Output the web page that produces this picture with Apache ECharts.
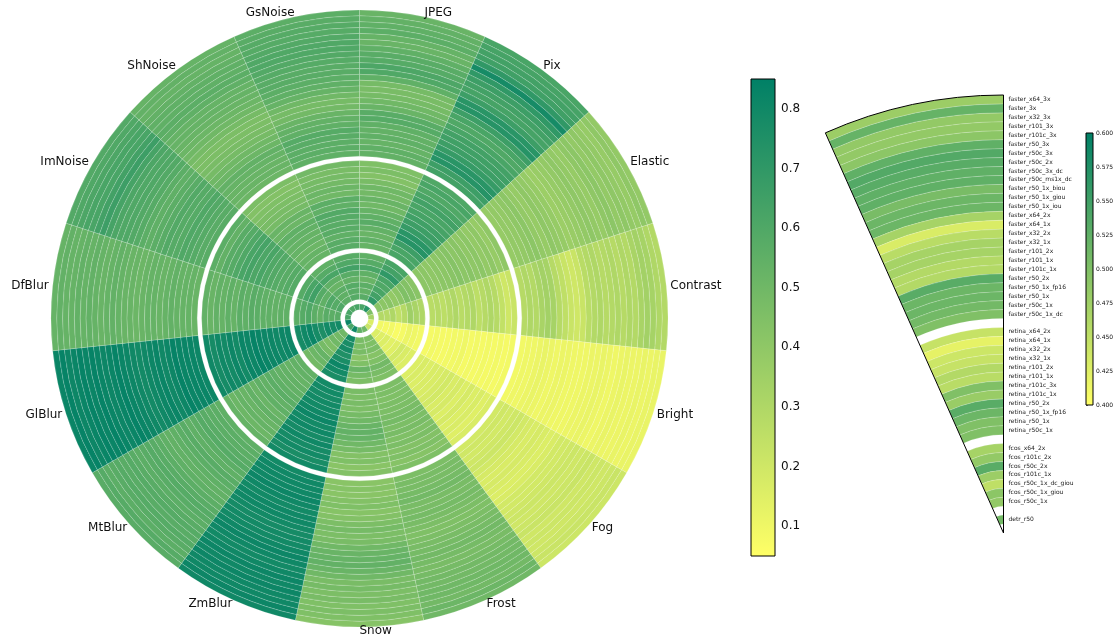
<!DOCTYPE html>
<html>
<head>
<meta charset="utf-8">
<script src="https://cdn.jsdelivr.net/npm/echarts@6/dist/echarts.min.js"></script>
<style>
  html, body { margin: 0; padding: 0; background: #ffffff; }
  #chart { width: 1120px; height: 638px; }
</style>
</head>
<body>
<div id="chart"></div>
<script>
// Corruption types, clockwise from the top
const corruptions = ['JPEG', 'Pix', 'Elastic', 'Contrast', 'Bright', 'Fog', 'Frost', 'Snow',
  'ZmBlur', 'MtBlur', 'GlBlur', 'DfBlur', 'ImNoise', 'ShNoise', 'GsNoise'];

// Rings per detector family in the wheel (faster, retina, fcos, detr), outer family first
const wheelFamilySizes = [25, 15, 8, 1];

// Relative score per corruption, one value per ring, outer ring first
const jpeg = [0.52, 0.54, 0.55, 0.56, 0.53, 0.52, 0.55, 0.57, 0.58, 0.61, 0.60, 0.55, 0.48,
  0.47, 0.48, 0.50, 0.52, 0.57, 0.58, 0.55, 0.54, 0.55, 0.53, 0.55, 0.54,
  0.45, 0.46, 0.44, 0.47, 0.50, 0.49, 0.52, 0.50, 0.53, 0.55, 0.57, 0.54, 0.52, 0.55, 0.53,
  0.55, 0.58, 0.62, 0.55, 0.52, 0.56, 0.54, 0.57,
  0.62];
const pix = [0.62, 0.63, 0.64, 0.65, 0.70, 0.78, 0.70, 0.66, 0.64, 0.63, 0.66, 0.72, 0.73,
  0.66, 0.62, 0.60, 0.62, 0.64, 0.65, 0.66, 0.68, 0.72, 0.73, 0.66, 0.64,
  0.60, 0.62, 0.60, 0.62, 0.64, 0.62, 0.63, 0.65, 0.66, 0.68, 0.72, 0.73, 0.66, 0.62, 0.62,
  0.62, 0.64, 0.70, 0.62, 0.60, 0.62, 0.64, 0.70,
  0.72];
const elastic = [0.39, 0.40, 0.38, 0.39, 0.40, 0.39, 0.41, 0.40, 0.38, 0.39, 0.40, 0.39, 0.38,
  0.37, 0.36, 0.38, 0.39, 0.40, 0.38, 0.39, 0.41, 0.40, 0.39, 0.39, 0.38,
  0.40, 0.38, 0.40, 0.39, 0.41, 0.40, 0.42, 0.41, 0.43, 0.42, 0.41, 0.41, 0.40, 0.41, 0.41,
  0.42, 0.44, 0.45, 0.41, 0.39, 0.42, 0.41, 0.42,
  0.45];
const contrast = [0.29, 0.30, 0.33, 0.34, 0.32, 0.29, 0.30, 0.28, 0.30, 0.29, 0.28, 0.30, 0.29,
  0.27, 0.22, 0.20, 0.22, 0.25, 0.28, 0.33, 0.34, 0.32, 0.29, 0.30, 0.28,
  0.22, 0.20, 0.24, 0.28, 0.30, 0.28, 0.26, 0.30, 0.29, 0.27, 0.30, 0.28, 0.26, 0.28, 0.27,
  0.30, 0.32, 0.35, 0.28, 0.25, 0.30, 0.28, 0.29,
  0.33];
const bright = [0.12, 0.12, 0.11, 0.12, 0.11, 0.11, 0.12, 0.11, 0.10, 0.11, 0.12, 0.11, 0.11,
  0.10, 0.10, 0.10, 0.11, 0.11, 0.10, 0.11, 0.12, 0.11, 0.10, 0.10, 0.09,
  0.09, 0.08, 0.09, 0.08, 0.09, 0.08, 0.09, 0.08, 0.10, 0.09, 0.09, 0.08, 0.08, 0.09, 0.08,
  0.09, 0.10, 0.11, 0.08, 0.07, 0.09, 0.08, 0.09,
  0.16];
const fog = [0.21, 0.22, 0.21, 0.20, 0.21, 0.20, 0.22, 0.21, 0.20, 0.21, 0.20, 0.19, 0.19,
  0.17, 0.16, 0.17, 0.18, 0.17, 0.18, 0.19, 0.21, 0.20, 0.19, 0.20, 0.19,
  0.17, 0.15, 0.17, 0.16, 0.18, 0.16, 0.18, 0.17, 0.19, 0.18, 0.17, 0.17, 0.16, 0.17, 0.16,
  0.16, 0.17, 0.19, 0.15, 0.14, 0.16, 0.15, 0.16,
  0.22];
const frost = [0.50, 0.51, 0.49, 0.50, 0.50, 0.49, 0.49, 0.48, 0.47, 0.48, 0.49, 0.48, 0.47,
  0.46, 0.45, 0.46, 0.47, 0.48, 0.47, 0.47, 0.49, 0.48, 0.47, 0.47, 0.46,
  0.45, 0.43, 0.45, 0.44, 0.46, 0.45, 0.47, 0.46, 0.48, 0.47, 0.46, 0.46, 0.45, 0.46, 0.46,
  0.45, 0.47, 0.49, 0.45, 0.43, 0.46, 0.45, 0.46,
  0.50];
const snow = [0.43, 0.45, 0.46, 0.45, 0.47, 0.46, 0.48, 0.47, 0.50, 0.52, 0.54, 0.53, 0.52,
  0.50, 0.47, 0.46, 0.48, 0.46, 0.44, 0.43, 0.45, 0.44, 0.42, 0.43, 0.42,
  0.44, 0.42, 0.45, 0.44, 0.48, 0.50, 0.53, 0.54, 0.52, 0.50, 0.48, 0.46, 0.47, 0.46, 0.47,
  0.46, 0.48, 0.52, 0.45, 0.42, 0.47, 0.46, 0.47,
  0.55];
const zmBlur = [0.80, 0.81, 0.80, 0.80, 0.81, 0.80, 0.81, 0.80, 0.79, 0.80, 0.81, 0.80, 0.79,
  0.79, 0.78, 0.79, 0.80, 0.80, 0.79, 0.80, 0.81, 0.80, 0.80, 0.80, 0.79,
  0.79, 0.77, 0.79, 0.78, 0.80, 0.78, 0.80, 0.79, 0.81, 0.80, 0.79, 0.79, 0.78, 0.79, 0.79,
  0.77, 0.79, 0.81, 0.77, 0.75, 0.78, 0.77, 0.78,
  0.80];
const mtBlur = [0.57, 0.58, 0.56, 0.57, 0.58, 0.57, 0.58, 0.57, 0.56, 0.57, 0.58, 0.57, 0.56,
  0.55, 0.54, 0.55, 0.56, 0.57, 0.55, 0.56, 0.58, 0.57, 0.56, 0.56, 0.55,
  0.53, 0.51, 0.53, 0.52, 0.54, 0.52, 0.55, 0.54, 0.56, 0.55, 0.54, 0.54, 0.53, 0.54, 0.54,
  0.49, 0.51, 0.53, 0.48, 0.46, 0.50, 0.49, 0.50,
  0.62];
const glBlur = [0.82, 0.83, 0.81, 0.82, 0.83, 0.82, 0.83, 0.82, 0.81, 0.82, 0.83, 0.82, 0.81,
  0.80, 0.79, 0.80, 0.81, 0.82, 0.80, 0.81, 0.83, 0.82, 0.82, 0.82, 0.81,
  0.80, 0.78, 0.80, 0.79, 0.81, 0.79, 0.82, 0.81, 0.83, 0.82, 0.81, 0.81, 0.80, 0.81, 0.81,
  0.78, 0.80, 0.82, 0.78, 0.76, 0.79, 0.78, 0.79,
  0.82];
const dfBlur = [0.53, 0.54, 0.53, 0.53, 0.54, 0.53, 0.54, 0.53, 0.52, 0.53, 0.54, 0.53, 0.52,
  0.52, 0.51, 0.52, 0.53, 0.53, 0.52, 0.53, 0.54, 0.53, 0.53, 0.53, 0.52,
  0.54, 0.52, 0.54, 0.53, 0.55, 0.53, 0.56, 0.55, 0.57, 0.56, 0.55, 0.55, 0.54, 0.55, 0.55,
  0.56, 0.58, 0.60, 0.56, 0.54, 0.57, 0.56, 0.57,
  0.62];
const imNoise = [0.59, 0.60, 0.61, 0.62, 0.62, 0.64, 0.66, 0.63, 0.61, 0.60, 0.60, 0.59, 0.58,
  0.56, 0.55, 0.56, 0.57, 0.59, 0.58, 0.58, 0.60, 0.59, 0.58, 0.57, 0.57,
  0.56, 0.54, 0.57, 0.58, 0.60, 0.62, 0.63, 0.61, 0.62, 0.60, 0.59, 0.58, 0.57, 0.58, 0.58,
  0.58, 0.62, 0.65, 0.58, 0.55, 0.60, 0.58, 0.60,
  0.62];
const shNoise = [0.53, 0.54, 0.53, 0.54, 0.55, 0.55, 0.56, 0.55, 0.53, 0.53, 0.52, 0.51, 0.50,
  0.48, 0.46, 0.46, 0.47, 0.48, 0.50, 0.51, 0.54, 0.53, 0.52, 0.52, 0.51,
  0.46, 0.44, 0.45, 0.46, 0.47, 0.48, 0.52, 0.51, 0.55, 0.54, 0.53, 0.53, 0.51, 0.53, 0.53,
  0.55, 0.58, 0.62, 0.55, 0.52, 0.56, 0.55, 0.56,
  0.60];
const gsNoise = [0.56, 0.57, 0.58, 0.58, 0.59, 0.60, 0.60, 0.59, 0.58, 0.57, 0.57, 0.56, 0.55,
  0.53, 0.50, 0.48, 0.49, 0.52, 0.54, 0.55, 0.58, 0.57, 0.56, 0.56, 0.55,
  0.49, 0.47, 0.48, 0.49, 0.51, 0.50, 0.56, 0.55, 0.59, 0.58, 0.57, 0.57, 0.55, 0.57, 0.57,
  0.57, 0.60, 0.64, 0.57, 0.54, 0.58, 0.57, 0.58,
  0.62];

// Legend wedge: detector families and their models, outer ring first
const fasterModels = ['faster_x64_3x', 'faster_3x', 'faster_x32_3x', 'faster_r101_3x', 'faster_r101c_3x',
  'faster_r50_3x', 'faster_r50c_3x', 'faster_r50c_2x', 'faster_r50c_3x_dc', 'faster_r50c_ms1x_dc',
  'faster_r50_1x_biou', 'faster_r50_1x_giou', 'faster_r50_1x_iou', 'faster_x64_2x', 'faster_x64_1x',
  'faster_x32_2x', 'faster_x32_1x', 'faster_r101_2x', 'faster_r101_1x', 'faster_r101c_1x',
  'faster_r50_2x', 'faster_r50_1x_fp16', 'faster_r50_1x', 'faster_r50c_1x', 'faster_r50c_1x_dc'];
const retinaModels = ['retina_x64_2x', 'retina_x64_1x', 'retina_x32_2x', 'retina_x32_1x', 'retina_r101_2x',
  'retina_r101_1x', 'retina_r101c_3x', 'retina_r101c_1x', 'retina_r50_2x', 'retina_r50_1x_fp16',
  'retina_r50_1x', 'retina_r50c_1x'];
const fcosModels = ['fcos_x64_2x', 'fcos_r101c_2x', 'fcos_r50c_2x', 'fcos_r101c_1x', 'fcos_r50c_1x_dc_giou',
  'fcos_r50c_1x_giou', 'fcos_r50c_1x'];
const detrModels = ['detr_r50'];

// Mean score per model in the legend wedge, same order as the names
const modelMean = [0.478, 0.520, 0.485, 0.485, 0.490, 0.525, 0.535, 0.530, 0.525, 0.525,
  0.505, 0.515, 0.515, 0.470, 0.430, 0.455, 0.470, 0.470, 0.460, 0.460,
  0.530, 0.515, 0.515, 0.510, 0.500,
  0.445, 0.420, 0.440, 0.445, 0.460, 0.455, 0.500, 0.480, 0.530, 0.515, 0.500, 0.500,
  0.470, 0.485, 0.530, 0.478, 0.450, 0.490, 0.485,
  0.510];

// Colour bar ticks and ranges
const mainTicks = [0.1, 0.2, 0.3, 0.4, 0.5, 0.6, 0.7, 0.8];
const legendTicks = [0.400, 0.425, 0.450, 0.475, 0.500, 0.525, 0.550, 0.575, 0.600];
const mainRange = [0.05, 0.85];
const legendRange = [0.40, 0.60];

// summer_r colour map (low -> high)
const cmap = ['#ffff66', '#008066'];

const scores = [jpeg, pix, elastic, contrast, bright, fog, frost, snow,
  zmBlur, mtBlur, glBlur, dfBlur, imNoise, shNoise, gsNoise];
const legendGroups = [fasterModels, retinaModels, fcosModels, detrModels];
const legendModels = [].concat(...legendGroups);

// Radial layout in ring units: centre hole, then families from the inside out with gaps between them.
// Returns one [inner, outer] span per ring, outer ring first.
function ringLayout(sizes, hole, gap) {
  const total = sizes.reduce(function (s, n) { return s + n; }, 0);
  const spans = new Array(total);
  let r = hole;
  let idx = total;
  for (let g = sizes.length - 1; g >= 0; g--) {
    for (let k = 0; k < sizes[g]; k++) {
      idx--;
      spans[idx] = [r, r + 1];
      r += 1;
    }
    if (g > 0) r += gap;
  }
  return { spans: spans, outer: r };
}
const mainLayout = ringLayout(wheelFamilySizes, 1.5, 0.75);
const legendLayout = ringLayout(legendGroups.map(function (g) { return g.length; }), 1, 1);

const mainCells = [];
scores.forEach(function (col, c) {
  col.forEach(function (v, m) {
    mainCells.push([c, mainLayout.spans[m][0], mainLayout.spans[m][1], v]);
  });
});
const legendCells = modelMean.map(function (v, m) {
  return [0, legendLayout.spans[m][0], legendLayout.spans[m][1], v];
});
const legendNames = legendModels.map(function (name, m) {
  return [0, (legendLayout.spans[m][0] + legendLayout.spans[m][1]) / 2, name];
});

const cellStroke = 'rgba(255,255,255,0.35)';

function renderSector(params, api) {
  const a = api.value(0);
  const pIn = api.coord([api.value(1), a]);
  const pOut = api.coord([api.value(2), a]);
  const cs = params.coordSys;
  const half = api.size([0, 1])[1] / 2;
  const mid = -pIn[3];
  return {
    type: 'sector',
    shape: { cx: cs.cx, cy: cs.cy, r0: pIn[2], r: pOut[2], startAngle: mid - half, endAngle: mid + half, clockwise: true },
    style: { fill: api.visual('color'), stroke: cellStroke, lineWidth: 0.5 }
  };
}

function renderWedgeCell(params, api) {
  const pA = api.coord([api.value(1), 0]);
  const pB = api.coord([api.value(2), 24]);
  const cs = params.coordSys;
  return {
    type: 'sector',
    shape: { cx: cs.cx, cy: cs.cy, r0: pA[2], r: pB[2], startAngle: -pB[3], endAngle: -pA[3], clockwise: true },
    style: { fill: api.visual('color'), stroke: cellStroke, lineWidth: 0.5 }
  };
}

function renderWedgeFrame(params, api) {
  const pA = api.coord([api.value(0), 0]);
  const pB = api.coord([api.value(1), 24]);
  const cs = params.coordSys;
  return {
    type: 'sector',
    shape: { cx: cs.cx, cy: cs.cy, r0: 0, r: pB[2], startAngle: -pB[3], endAngle: -pA[3], clockwise: true },
    style: { fill: 'none', stroke: '#000000', lineWidth: 1 }
  };
}

function renderWedgeLabel(params, api) {
  const p = api.coord([api.value(1), 0]);
  return {
    type: 'text',
    x: p[0] + 5, y: p[1],
    style: { text: api.value(2), fontFamily: 'DejaVu Sans', fontSize: 6, fill: '#222222', align: 'left', verticalAlign: 'middle' }
  };
}

function renderAngleLabel(params, api) {
  const c = api.value(0);
  const p = api.coord([mainLayout.outer, c]);
  const cs = params.coordSys;
  const a = p[3];
  const rr = p[2] + 4;
  const right = Math.cos(a) > -1e-6;
  return {
    type: 'text',
    x: cs.cx + rr * Math.cos(a), y: cs.cy - rr * Math.sin(a),
    style: { text: corruptions[c], fontFamily: 'DejaVu Sans', fontSize: 12, fill: '#111111', align: right ? 'left' : 'right', verticalAlign: 'middle' }
  };
}

function renderBar(params, api) {
  const top = api.coord([0, api.value(1)]);
  const bottom = api.coord([1, api.value(0)]);
  return {
    type: 'rect',
    shape: { x: top[0], y: top[1], width: bottom[0] - top[0], height: bottom[1] - top[1] },
    style: { fill: new echarts.graphic.LinearGradient(0, 0, 0, 1, [{ offset: 0, color: cmap[1] }, { offset: 1, color: cmap[0] }]) }
  };
}

const hidden = { axisLine: { show: false }, axisTick: { show: false }, axisLabel: { show: false }, splitLine: { show: false } };

const chart = echarts.init(document.getElementById('chart'), null, { renderer: 'canvas' });
chart.setOption({
  animation: false,
  backgroundColor: '#ffffff',
  polar: [
    { center: [359.5, 318.5], radius: [0, 308.5] },
    { center: [1003.5, 533], radius: [0, 438] }
  ],
  angleAxis: [
    Object.assign({ polarIndex: 0, type: 'category', data: corruptions, startAngle: 90, clockwise: true }, hidden),
    Object.assign({ polarIndex: 1, type: 'value', min: 0, max: 360, startAngle: 90, clockwise: false }, hidden)
  ],
  radiusAxis: [
    Object.assign({ polarIndex: 0, type: 'value', min: 0, max: mainLayout.outer }, hidden),
    Object.assign({ polarIndex: 1, type: 'value', min: 0, max: legendLayout.outer }, hidden)
  ],
  grid: [
    { left: 751, top: 79, width: 24, height: 477, show: true, borderColor: '#000000', borderWidth: 1, backgroundColor: 'transparent', z: 3 },
    { left: 1086, top: 133, width: 7, height: 272, show: true, borderColor: '#000000', borderWidth: 1, backgroundColor: 'transparent', z: 3 }
  ],
  xAxis: [
    Object.assign({ gridIndex: 0, type: 'value', min: 0, max: 1 }, hidden),
    Object.assign({ gridIndex: 1, type: 'value', min: 0, max: 1 }, hidden)
  ],
  yAxis: [
    {
      gridIndex: 0, type: 'value', position: 'right', min: mainRange[0], max: mainRange[1],
      axisLine: { show: false }, splitLine: { show: false },
      axisTick: { show: true, length: 4, lineStyle: { color: '#000000' }, customValues: mainTicks },
      axisLabel: { fontFamily: 'DejaVu Sans', fontSize: 12, color: '#111111', margin: 6, customValues: mainTicks, formatter: function (v) { return v.toFixed(1); } }
    },
    {
      gridIndex: 1, type: 'value', position: 'right', min: legendRange[0], max: legendRange[1],
      axisLine: { show: false }, splitLine: { show: false },
      axisTick: { show: true, length: 2, lineStyle: { color: '#000000', width: 0.6 }, customValues: legendTicks },
      axisLabel: { fontFamily: 'DejaVu Sans', fontSize: 6, color: '#111111', margin: 3, customValues: legendTicks, formatter: function (v) { return v.toFixed(3); } }
    }
  ],
  visualMap: [
    { show: false, type: 'continuous', seriesIndex: 0, dimension: 3, min: mainRange[0], max: mainRange[1], inRange: { color: cmap } },
    { show: false, type: 'continuous', seriesIndex: 2, dimension: 3, min: legendRange[0], max: legendRange[1], inRange: { color: cmap } }
  ],
  series: [
    { type: 'custom', coordinateSystem: 'polar', polarIndex: 0, renderItem: renderSector, data: mainCells, encode: { angle: 0, radius: 2 }, silent: true },
    { type: 'custom', coordinateSystem: 'polar', polarIndex: 0, renderItem: renderAngleLabel, data: corruptions.map(function (n, i) { return [i]; }), encode: { angle: 0 }, silent: true, z: 5 },
    { type: 'custom', coordinateSystem: 'polar', polarIndex: 1, renderItem: renderWedgeCell, data: legendCells, encode: { angle: 0, radius: 2 }, silent: true },
    { type: 'custom', coordinateSystem: 'polar', polarIndex: 1, renderItem: renderWedgeFrame, data: [[0, legendLayout.outer]], encode: { radius: 1 }, silent: true, z: 4 },
    { type: 'custom', coordinateSystem: 'polar', polarIndex: 1, renderItem: renderWedgeLabel, data: legendNames, encode: { angle: 0, radius: 1 }, silent: true, z: 5 },
    { type: 'custom', coordinateSystem: 'cartesian2d', xAxisIndex: 0, yAxisIndex: 0, renderItem: renderBar, data: [mainRange], silent: true },
    { type: 'custom', coordinateSystem: 'cartesian2d', xAxisIndex: 1, yAxisIndex: 1, renderItem: renderBar, data: [legendRange], silent: true }
  ]
});
</script>
</body>
</html>
